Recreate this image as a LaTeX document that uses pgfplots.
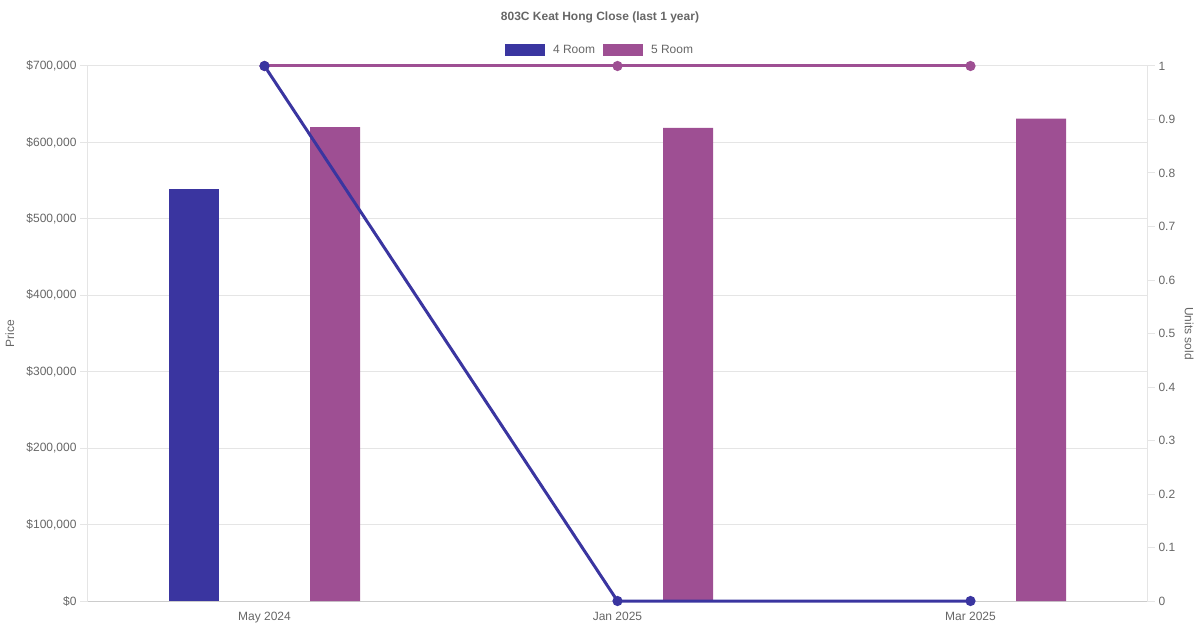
\documentclass[border=0pt]{standalone}
\usepackage{pgfplots}
\pgfplotsset{compat=1.18}
\usepackage{fontspec}
\setmainfont{Liberation Sans}
\definecolor{roomA}{HTML}{3A35A0}
\definecolor{roomB}{HTML}{9E4F93}
\definecolor{txt}{HTML}{666666}
\definecolor{gridc}{HTML}{E5E5E5}
\definecolor{axc}{HTML}{CCCCCC}
\pgfplotsset{
  baseaxis/.style={
    at={(88pt,29pt)}, anchor=south west,
    scale only axis, width=1059pt, height=535pt,
    xmin=-0.5, xmax=2.5,
    tick align=outside, major tick length=8pt,
    tick label style={font=\fontsize{12}{14}\selectfont, color=txt},
    label style={font=\fontsize{12}{14}\selectfont, color=txt},
    /pgf/number format/assume math mode=true,
    axis line style={-},
  }
}
\begin{document}
\begin{tikzpicture}
\path[use as bounding box] (0pt,0pt) rectangle (1200pt,630pt);
\begin{axis}[baseaxis,
  ymin=0, ymax=700000,
  axis x line*=bottom, axis y line*=left,
  x axis line style={axc, line width=1pt},
  y axis line style={gridc, line width=1pt},
  xtick={0,1,2}, xticklabels={May 2024,Jan 2025,Mar 2025},
  major x tick style={draw=none},
  ytick={0,100000,200000,300000,400000,500000,600000,700000},
  yticklabels={\$0,{\$100,000},{\$200,000},{\$300,000},{\$400,000},{\$500,000},{\$600,000},{\$700,000}},
  scaled y ticks=false,
  major y tick style={gridc, line width=1pt},
  ymajorgrids, grid style={gridc, line width=1pt},
  ylabel={Price},
  ylabel style={at={(axis description cs:-0.0737,0.5)}, anchor=center, rotate=0},
  legend columns=2,
  legend style={draw=none, fill=none, at={(0.4835,1.03)}, anchor=center,
    font=\fontsize{12}{14}\selectfont, text=txt,
    /tikz/every even column/.append style={column sep=6pt}},
]
\addplot[ybar, bar width=50pt, bar shift=-70.5pt, fill=roomA, draw=none,
  legend image code/.code={\fill[roomA] (0pt,-6pt) rectangle (40pt,6pt); \path (46pt,0pt);}]
  coordinates {(0,539000)};
\addlegendentry{4 Room}
\addplot[ybar, bar width=50pt, bar shift=70.5pt, fill=roomB, draw=none,
  legend image code/.code={\fill[roomB] (0pt,-6pt) rectangle (40pt,6pt); \path (46pt,0pt);}]
  coordinates {(0,620000) (1,619000) (2,631000)};
\addlegendentry{5 Room}
\end{axis}
\begin{axis}[baseaxis,
  ymin=0, ymax=1,
  axis x line=none, axis y line*=right,
  y axis line style={gridc, line width=1pt},
  major y tick style={gridc, line width=1pt},
  ytick={0,0.1,0.2,0.3,0.4,0.5,0.6,0.7,0.8,0.9,1},
  yticklabels={0,0.1,0.2,0.3,0.4,0.5,0.6,0.7,0.8,0.9,1},
  ylabel={Units sold},
  ylabel style={at={(axis description cs:1.0397,0.5)}, anchor=center, rotate=180},
  clip=false,
]
\addplot[roomB, line width=3pt, mark=*, mark size=3.5pt, mark options={solid, fill=roomB, draw=none}]
  coordinates {(0,1) (1,1) (2,1)};
\addplot[roomA, line width=3pt, mark=*, mark size=3.5pt, mark options={solid, fill=roomA, draw=none}]
  coordinates {(0,1) (1,0) (2,0)};
\end{axis}
\node[font=\bfseries\fontsize{12}{14}\selectfont, text=txt] at (600pt,613pt) {803C Keat Hong Close (last 1 year)};
\end{tikzpicture}
\end{document}
